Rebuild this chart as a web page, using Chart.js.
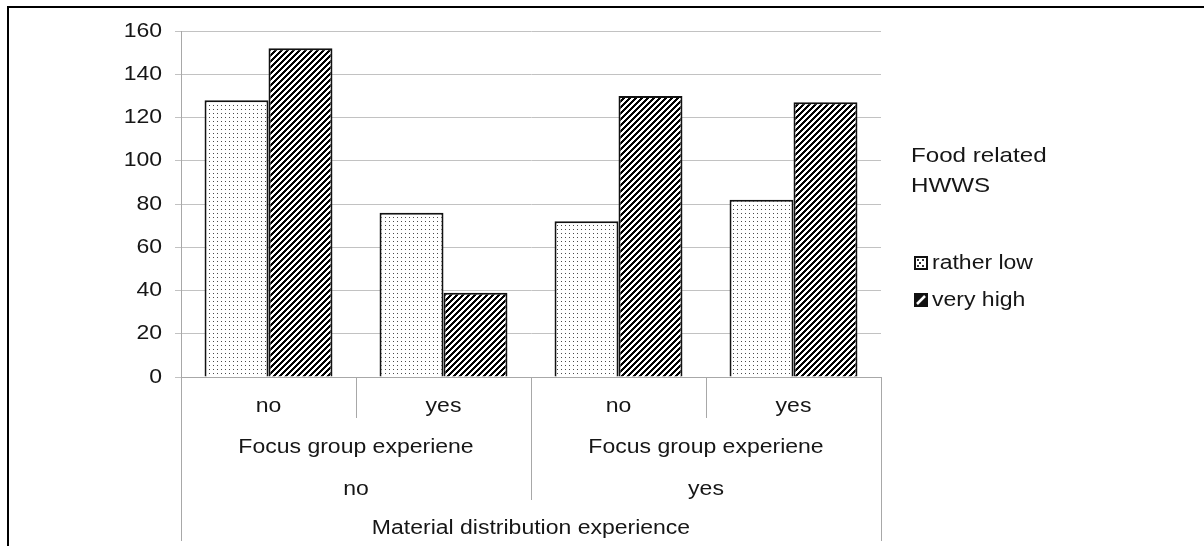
<!DOCTYPE html>
<html>
<head>
<meta charset="utf-8">
<script src="https://cdn.jsdelivr.net/npm/chart.js@4/dist/chart.umd.min.js"></script>
<style>
  html, body { margin: 0; padding: 0; background: #ffffff; }
  #wrap { width: 1204px; height: 546px; position: relative; }
</style>
</head>
<body>
<div id="wrap"><canvas id="chart" width="1204" height="546"></canvas></div>
<script>
// Focus group experience (innermost category level)
const focusGroup = ['no', 'yes', 'no', 'yes'];
// Middle level: label shared by each pair of categories
const focusGroupTitle = ['Focus group experiene', 'Focus group experiene'];
// Outer level: material distribution experience
const materialDist = ['no', 'yes'];
const materialDistTitle = 'Material distribution experience';

// Counts per HWWS group
const ratherLow = [128, 76, 72, 82];
const veryHigh = [152, 39, 130, 127];

const seriesNames = ['rather low', 'very high'];
const legendTitle = ['Food related', 'HWWS'];
const yTicks = [0, 20, 40, 60, 80, 100, 120, 140, 160];

const FONT = '"Liberation Sans", Arial, sans-serif';
const TEXT = '#161616';
const RULE = '#a8a8a8';
const STRETCH = 1.15;   // text is set slightly wide

// Fine grey dot fill
function dotPattern() {
  const c = document.createElement('canvas');
  c.width = 4; c.height = 4;
  const g = c.getContext('2d');
  g.fillStyle = '#ffffff';
  g.fillRect(0, 0, 4, 4);
  g.fillStyle = '#4a4a4a';
  g.fillRect(1, 1, 1, 1);
  return g.createPattern(c, 'repeat');
}

// Black / white diagonal stripes running bottom-left to top-right
function stripePattern() {
  const n = 6;
  const c = document.createElement('canvas');
  c.width = n; c.height = n;
  const g = c.getContext('2d');
  const img = g.createImageData(n, n);
  for (let y = 0; y < n; y++) {
    for (let x = 0; x < n; x++) {
      const k = (x + y) % n;
      const v = k < 3 ? 0 : 255;
      const i = (y * n + x) * 4;
      img.data[i] = v; img.data[i + 1] = v; img.data[i + 2] = v; img.data[i + 3] = 255;
    }
  }
  g.putImageData(img, 0, 0);
  return g.createPattern(c, 'repeat');
}

const fills = [dotPattern(), stripePattern()];

function wideText(ctx, text, x, y, align, size) {
  ctx.save();
  ctx.font = size + 'px ' + FONT;
  ctx.textAlign = align;
  ctx.textBaseline = 'middle';
  ctx.fillStyle = TEXT;
  ctx.translate(x, y);
  ctx.scale(STRETCH, 1);
  ctx.fillText(text, 0, 0);
  ctx.restore();
}

// Value labels, multi-level category axis, legend and page frame
const decorations = {
  id: 'decorations',
  afterDraw(chart) {
    const ctx = chart.ctx;
    const x = chart.scales.x;
    const yS = chart.scales.y;
    const area = chart.chartArea;
    const px = i => x.getPixelForValue(i);
    const edge = i => (px(i) + px(i + 1)) / 2;
    const bottom = area.bottom;

    ctx.save();
    // y tick labels
    yTicks.forEach(v => wideText(ctx, String(v), area.left - 19, yS.getPixelForValue(v), 'right', 20));

    // separators between categories
    ctx.strokeStyle = RULE;
    ctx.lineWidth = 1;
    const vline = (xx, y2) => {
      ctx.beginPath();
      ctx.moveTo(Math.round(xx) + 0.5, bottom);
      ctx.lineTo(Math.round(xx) + 0.5, y2);
      ctx.stroke();
    };
    vline(area.left, 541);
    vline(area.right, 541);
    for (let i = 0; i < focusGroup.length - 1; i++) {
      vline(edge(i), (i % 2 === 1) ? 500 : 418);
    }

    // category labels
    focusGroup.forEach((t, i) => wideText(ctx, t, px(i), 406, 'center', 20));
    focusGroupTitle.forEach((t, g) => wideText(ctx, t, edge(g * 2), 447, 'center', 20));
    materialDist.forEach((t, g) => wideText(ctx, t, edge(g * 2), 489, 'center', 20));
    wideText(ctx, materialDistTitle, (area.left + area.right) / 2, 528, 'center', 20);

    // legend
    wideText(ctx, legendTitle[0], 911, 156, 'left', 21);
    wideText(ctx, legendTitle[1], 911, 186, 'left', 21);
    const rows = [263, 300];
    seriesNames.forEach((name, k) => {
      const y = rows[k];
      if (k === 0) {
        ctx.fillStyle = '#ffffff';
        ctx.fillRect(915, y - 6, 12, 12);
        ctx.fillStyle = '#333333';
        [[917, y - 4], [922, y - 4], [919, y - 1], [917, y + 2], [922, y + 2]].forEach(p => ctx.fillRect(p[0], p[1], 2, 2));
      } else {
        ctx.fillStyle = '#111111';
        ctx.fillRect(915, y - 6, 12, 12);
        ctx.strokeStyle = '#ffffff';
        ctx.lineWidth = 2.5;
        ctx.beginPath();
        ctx.moveTo(917, y + 4);
        ctx.lineTo(925, y - 4);
        ctx.stroke();
      }
      ctx.strokeStyle = '#111111';
      ctx.lineWidth = 2;
      ctx.strokeRect(915, y - 6, 12, 12);
      wideText(ctx, name, 932, y, 'left', 20);
    });

    // page frame
    ctx.fillStyle = '#000000';
    ctx.fillRect(7, 6, 1197, 2);
    ctx.fillRect(7, 6, 2, 540);
    ctx.restore();
  }
};

new Chart(document.getElementById('chart'), {
  type: 'bar',
  data: {
    labels: focusGroup,
    datasets: [
      {
        label: seriesNames[0],
        data: ratherLow,
        backgroundColor: fills[0],
        borderColor: '#111111',
        borderWidth: 2,
        borderSkipped: 'bottom'
      },
      {
        label: seriesNames[1],
        data: veryHigh,
        backgroundColor: fills[1],
        borderColor: '#111111',
        borderWidth: 2,
        borderSkipped: 'bottom'
      }
    ]
  },
  options: {
    responsive: false,
    animation: false,
    events: [],
    layout: { padding: { top: 31, right: 323, bottom: 0, left: 0 } },
    datasets: {
      bar: { categoryPercentage: 0.731, barPercentage: 1.0 }
    },
    plugins: {
      legend: { display: false },
      tooltip: { enabled: false },
      title: { display: false }
    },
    scales: {
      x: {
        type: 'category',
        grid: { display: false },
        border: { display: true, color: RULE, width: 1 },
        ticks: { display: false },
        afterFit(scale) { scale.width = 700; scale.height = 169; }
      },
      y: {
        min: 0,
        max: 160,
        afterBuildTicks(scale) { scale.ticks = yTicks.map(v => ({ value: v })); },
        grid: { color: '#c2c2c2', lineWidth: 1, tickLength: 6, drawTicks: true },
        border: { display: true, color: RULE, width: 1 },
        ticks: { display: false },
        afterFit(scale) { scale.width = 181; }
      }
    }
  },
  plugins: [decorations]
});
</script>
</body>
</html>
